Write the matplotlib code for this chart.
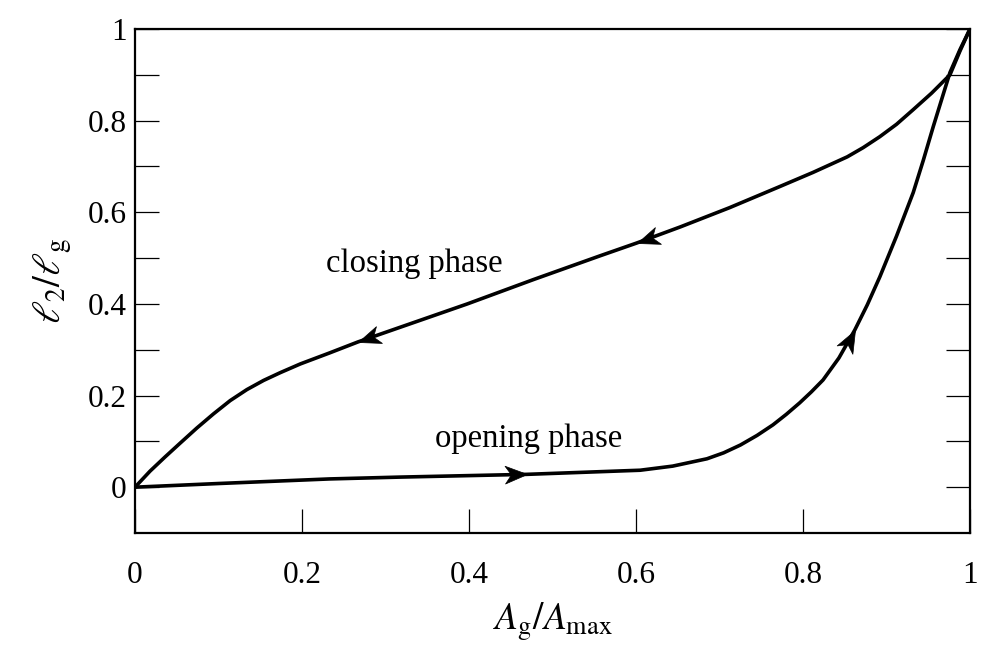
import numpy as np
import matplotlib
matplotlib.use("Agg")
import matplotlib.pyplot as plt
from matplotlib.path import Path
from matplotlib.markers import MarkerStyle
from matplotlib.transforms import Affine2D

plt.rcParams["font.family"] = ["Liberation Serif", "DejaVu Serif"]
plt.rcParams["mathtext.fontset"] = "stix"

# opening phase (0,0) -> (1,1)
open_x = [0.0, 0.10, 0.233, 0.317, 0.469, 0.605, 0.644, 0.685, 0.705, 0.725,
          0.745, 0.764, 0.780, 0.796, 0.810, 0.824, 0.843, 0.862, 0.877, 0.892,
          0.912, 0.932, 0.944, 0.956, 0.966, 0.976, 0.988, 1.0]
open_y = [0.0, 0.008, 0.018, 0.022, 0.028, 0.037, 0.046, 0.062, 0.075, 0.092,
          0.113, 0.136, 0.159, 0.184, 0.208, 0.234, 0.282, 0.343, 0.398, 0.459,
          0.548, 0.643, 0.713, 0.787, 0.846, 0.905, 0.955, 1.0]

# closing phase (1,1) -> (0,0)
close_x = [1.0, 0.988, 0.976, 0.954, 0.932, 0.912, 0.892, 0.872, 0.853, 0.812,
           0.772, 0.712, 0.653, 0.601, 0.557, 0.477, 0.398, 0.267, 0.233, 0.198,
           0.174, 0.154, 0.134, 0.114, 0.094, 0.074, 0.054, 0.036, 0.018, 0.0]
close_y = [1.0, 0.952, 0.90, 0.860, 0.824, 0.792, 0.765, 0.741, 0.721, 0.687,
           0.656, 0.610, 0.568, 0.533, 0.505, 0.453, 0.40, 0.317, 0.293, 0.269,
           0.250, 0.233, 0.213, 0.189, 0.160, 0.129, 0.096, 0.066, 0.035, 0.0]

# index of the point carrying an arrowhead
open_arrows = [4, 17]
close_arrows = [13, 17]

x_ticks = [0, 0.2, 0.4, 0.6, 0.8, 1]
x_labels = ["0", "0.2", "0.4", "0.6", "0.8", "1"]
y_ticks = [0, 0.2, 0.4, 0.6, 0.8, 1]
y_labels = ["0", "0.2", "0.4", "0.6", "0.8", "1"]
y_minor = [0.1, 0.3, 0.5, 0.7, 0.9]

FS = 22.5

fig = plt.figure(figsize=(9.82, 6.56), dpi=100)
ax = fig.add_axes([135 / 982, 1 - 533 / 656, 835 / 982, 504 / 656])
ax.set_xlim(0, 1)
ax.set_ylim(-0.1, 1)

for s in ax.spines.values():
    s.set_linewidth(1.6)

ax.plot(open_x, open_y, color="k", lw=2.6, solid_capstyle="round", solid_joinstyle="round")
ax.plot(close_x, close_y, color="k", lw=2.6, solid_capstyle="round", solid_joinstyle="round")

# stealth-like arrowhead, tip at the origin pointing +x
head = Path([(0, 0), (-1, 0.4), (-0.72, 0), (-1, -0.4), (0, 0)],
            [Path.MOVETO, Path.LINETO, Path.LINETO, Path.LINETO, Path.CLOSEPOLY])


def arrow_at(xs, ys, i):
    p0 = ax.transData.transform((xs[i - 1], ys[i - 1]))
    p1 = ax.transData.transform((xs[i + 1], ys[i + 1]))
    ang = np.degrees(np.arctan2(p1[1] - p0[1], p1[0] - p0[0]))
    m = MarkerStyle(head, transform=Affine2D().rotate_deg(ang))
    ax.plot([xs[i]], [ys[i]], ls="", marker=m, ms=32, color="k", mec="k", mew=0.5)


for i in open_arrows:
    arrow_at(open_x, open_y, i)
for i in close_arrows:
    arrow_at(close_x, close_y, i)

ax.text(0.229, 0.47, "closing phase", fontsize=23.5, ha="left", va="baseline")
ax.text(0.359, 0.087, "opening phase", fontsize=23.5, ha="left", va="baseline")

ax.set_xticks(x_ticks)
ax.set_xticklabels(x_labels)
ax.set_yticks(y_ticks)
ax.set_yticklabels(y_labels)
ax.set_yticks(y_minor, minor=True)
ax.tick_params(axis="x", which="both", direction="in", length=17, width=0.9,
               top=False, labelsize=FS, pad=20)
ax.tick_params(axis="y", which="both", direction="in", length=17, width=0.9,
               right=True, labelsize=FS, pad=6)

ax.set_xlabel(r"$A_{\rm g}/A_{\rm max}$", fontsize=27, labelpad=8)
ax.set_ylabel(r"$\ell_2/\ell_{\rm g}$", fontsize=28, labelpad=10)

fig.savefig("out.png", dpi=100, facecolor="white")
